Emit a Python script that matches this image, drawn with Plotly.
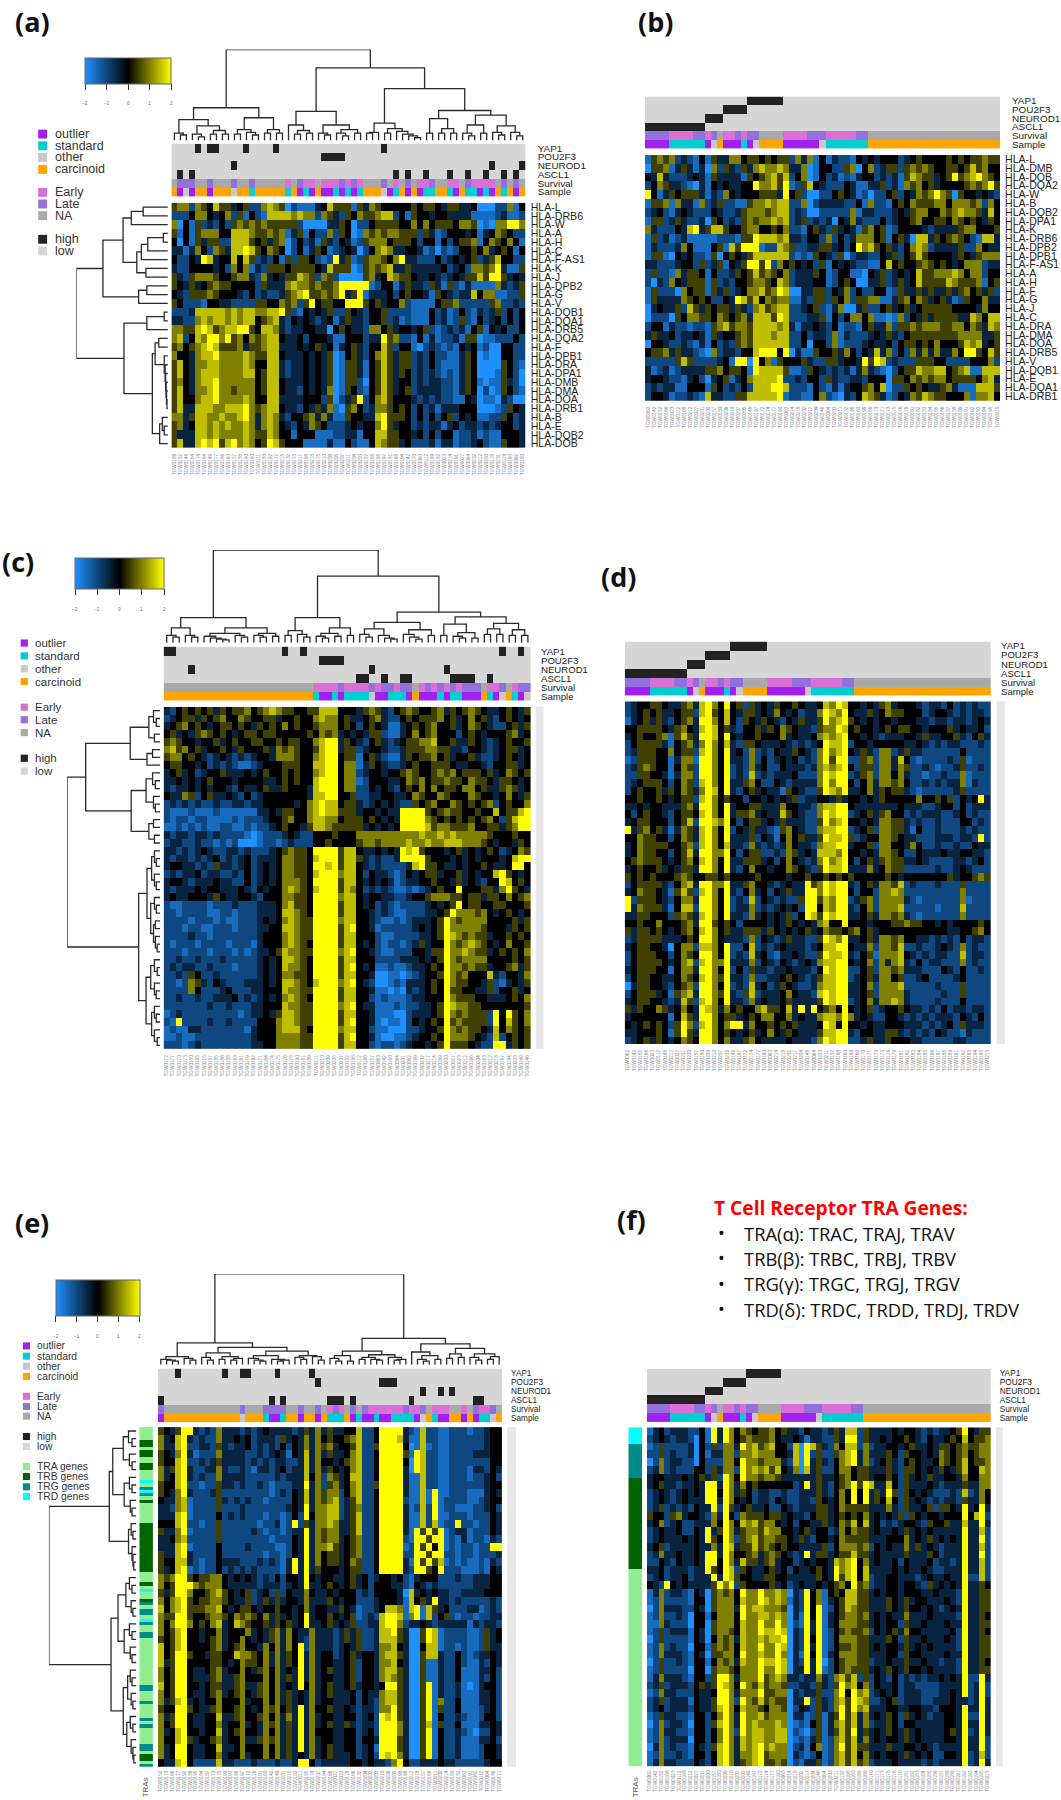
import plotly.graph_objects as go

WIDTH = 1061
HEIGHT = 1800

# heat values, one digit per cell: 0 = -2 (blue), 4 = 0 (black), 8 = +2 (yellow)
GENES_A = ["HLA-L", "HLA-DRB6", "HLA-W", "HLA-A", "HLA-H", "HLA-C", "HLA-F-AS1", "HLA-K", "HLA-J", "HLA-DPB2",
           "HLA-G", "HLA-V", "HLA-DQB1", "HLA-DQA1", "HLA-DRB5", "HLA-DQA2", "HLA-F", "HLA-DPB1", "HLA-DRA",
           "HLA-DPA1", "HLA-DMB", "HLA-DMA", "HLA-DOA", "HLA-DRB1", "HLA-B", "HLA-E", "HLA-DQB2", "HLA-DOB"]
HEAT_A = [
    "5662654755 3452267650 2111347555 1536544444 5455435533 400022614",
    "2224664346 2514217777 6766265325 4655677241 5443443333 111123112",
    "6041523242 5656565555 5200003354 0224555544 6464555466 501066886",
    "5141566644 7776556561 3514226254 0165656655 5253124443 413465422",
    "4041535522 7775453560 2423153243 1256664555 4244142455 614654641",
    "3313642653 7787546540 2413541234 3024676334 4312021244 546345414",
    "4224387344 7475232415 2554212835 1256654683 3222423434 523574422",
    "3224444342 6461325554 5555437555 0156567335 3333342342 665683115",
    "5325666544 5663263435 5765265200 0056347655 4334323435 575885343",
    "5435345655 4444253336 7665655688 8881244135 3325315213 111163235",
    "4325556544 4324232235 6785565683 5813334245 4431543233 746611225",
    "5422214433 2222554465 6258455448 8854534462 1111455622 222562232",
    "2223777776 7677667785 2143435225 4324452222 1114231242 132352424",
    "3322676776 7677456732 4343234135 3324452312 1114231252 142342424",
    "6655787567 7885477632 3344330454 3326645344 3452123231 451434224",
    "6724768868 5646567743 3424443114 4423385622 1413122315 501122242",
    "5645678755 5635567733 3434534134 5324475244 1023212143 412004422",
    "6443677866 6676557743 3343435014 5324675355 2324221135 401004422",
    "5743667766 6676447732 3343435015 5314575355 2324211135 400005421",
    "5743677766 6677457732 3343435015 5314575354 2323212135 400015420",
    "5643677866 6666457743 3343435015 5204575344 2323322135 410115320",
    "5743667866 5666457743 3243436015 4214575345 2333322135 402015421",
    "5744677866 6676447733 3344425023 5824675444 3232322114 301103200",
    "5733777667 7786567743 3243536105 6423665454 2423133344 400012543",
    "6635776676 6786367632 4456363115 4433785554 2424245243 411225423",
    "5634776767 6676367643 2436542223 4344685344 2323313423 323234423",
    "5333776766 6676557644 1444111223 3144775544 3424244122 312114443",
    "5733787857 8676458754 4411113114 2114765534 2223133122 342115443",
]

SAMPLES_A = ["TGW0189", "TGW0152", "TGW0146", "TGW0164", "TGW0174", "TGW0184", "TGW0149", "TGW0177", "TGW0186", "TGW0163",
             "TGW0157", "TGW0188", "TGW0190", "TGW0160", "TGW0111", "TGW0183", "TGW0192", "TGW0172", "TGW0215", "TGW0132",
             "TGW0173", "TGW0217", "TGW0198", "TGW0218", "TGW0175", "TGW0210", "TGW0209", "TGW0205", "TGW0207", "TGW0211",
             "TGW0204", "TGW0203", "TGW0187", "TGW0185", "TGW0195", "TGW0197", "TGW0181", "TGW0168", "TGW0194", "TGW0142",
             "TGW0170", "TGW0063", "TGW0112", "TGW0169", "TGW0182", "TGW0023", "TGW0214", "TGW0191", "TGW0027", "TGW0064",
             "TGW0202", "TGW0212", "TGW0200", "TGW0178", "TGW0201", "TGW0119", "TGW0193", "TGW0062", "TGW0180"]
YAP1_A = [4, 6, 7, 12, 17, 35]
POU2F3_A = [25, 26, 27, 28]
NEUROD1_A = [10, 53, 58]
ASCL1_A = [1, 3, 37, 39, 42, 46, 49, 52, 55, 57]
SURVIVAL_A = "NLLLNNLNNNLNNLNNNNNENLEENEEELELENNNLNENLNEELNNEENLEEEENLNLN"
SAMPLE_A = "COXOCCOCCCXCCSCCCCCSCOSOCOOSOSOSCCCXOSCOCOSSCCSOCSSOSOCSCOC"

GENES_B = ["HLA-L", "HLA-DMB", "HLA-DOB", "HLA-DQA2", "HLA-W", "HLA-B", "HLA-DQB2", "HLA-DPA1", "HLA-K", "HLA-DRB6",
           "HLA-DPB2", "HLA-DPB1", "HLA-F-AS1", "HLA-A", "HLA-H", "HLA-F", "HLA-G", "HLA-J", "HLA-C", "HLA-DRA",
           "HLA-DMA", "HLA-DOA", "HLA-DRB5", "HLA-V", "HLA-DQB1", "HLA-E", "HLA-DQA1", "HLA-DRB1"]
HEAT_B = [
    "1565623214 1533664554 5455263614 1322143434 4423454444 545455655",
    "0556135313 0625325367 6676336014 4225604623 5525656544 554575644",
    "4373222343 1533331545 6757246014 2312134423 2315765534 585678654",
    "2465332103 1434334486 6758125743 2224311335 2316564534 444565685",
    "8413545553 1326434445 5538452002 2454312022 4524365686 505443432",
    "1556163316 2352211566 7677226023 3332241622 1454655566 466656264",
    "2342134322 2432235666 5677232002 2222613322 2343566446 567665374",
    "1552353223 0542325656 6767235232 3043632224 2344564455 465454354",
    "6322243783 5775445664 4546221453 2534315645 1244443233 335664445",
    "1523123111 1122215587 7767332442 6242366645 1453077354 565421773",
    "1322236411 1451758881 2276522335 5342486754 5324676233 335226433",
    "1551043422 1504543577 7777212154 3250233224 3524575444 435435666",
    "3322234425 2351435885 8264543425 1434322114 7454456545 434666233",
    "2522163554 1422354575 6546233354 1244110435 2343475566 676466244",
    "2032643555 1523244566 5476233344 1245400335 2353475555 765556145",
    "1522206455 1535234667 5687003355 2436242244 1253353533 535645352",
    "1533336545 4224387574 6566113255 2546255661 1356465345 312544633",
    "0343352753 5455353267 5677223452 1360035224 5345345555 544443644",
    "0222054665 5465456377 7587222335 1424664611 0162435355 553376477",
    "2441322122 1567566577 7767313343 2412214533 6255656665 566465376",
    "3533423343 1534456577 7677224233 2613222343 5324555555 556666335",
    "0443223213 1423256577 7777224044 2612223433 4245545464 445767345",
    "4556353321 0623324478 8848031154 4536424373 6242636363 364885475",
    "2222257522 2234188084 6154445322 5534438587 2322255544 222244462",
    "3123123333 5564554187 7775112543 2323136321 0245576677 456711777",
    "3443221342 0345134677 7782232442 5322332444 0554656566 455554673",
    "2323311444 1542324277 7887222142 1313445647 0225454335 631117775",
    "2443122321 7332255777 7781221146 2103247653 1243657655 444616674",
]

SAMPLES_BDF = ["TGW0062", "TGW0142", "TGW0152", "TGW0166", "TGW0023", "TGW0112", "TGW0168", "TGW0212", "TGW0027", "TGW0201",
               "TGW0200", "TGW0157", "TGW0180", "TGW0209", "TGW0210", "TGW0207", "TGW0205", "TGW0149", "TGW0197", "TGW0172",
               "TGW0174", "TGW0177", "TGW0190", "TGW0063", "TGW0214", "TGW0218", "TGW0202", "TGW0217", "TGW0204", "TGW0146",
               "TGW0064", "TGW0203", "TGW0211", "TGW0132", "TGW0198", "TGW0160", "TGW0199", "TGW0169", "TGW0170", "TGW0171",
               "TGW0173", "TGW0175", "TGW0176", "TGW0179", "TGW0181", "TGW0182", "TGW0183", "TGW0184", "TGW0185", "TGW0186",
               "TGW0187", "TGW0188", "TGW0189", "TGW0191", "TGW0192", "TGW0193", "TGW0194", "TGW0195", "TGW0215"]
YAP1_BDF = [17, 18, 19, 20, 21, 22]
POU2F3_BDF = [13, 14, 15, 16]
NEUROD1_BDF = [10, 11, 12]
ASCL1_BDF = [0, 1, 2, 3, 4, 5, 6, 7, 8, 9]
SURVIVAL_BDF = "LLLLEEEELLELNEELELLNNNNEEEELLLEEEEELLNNNNNNNNNNNNNNNNNNNNNN"
SAMPLE_BDF = "OOOOSSSSSSOXCOOOSOXCCCCOOOOOOXSSSSSSSCCCCCCCCCCCCCCCCCCCCCC"

HEAT_C = [
    "3245454535 4556456765 5445577744 4356532456 5445635456 543345435",
    "2345535456 4465445534 4544676645 3345632245 4555645346 453245434",
    "3456454345 5454354546 4544566645 4245431134 5456445346 543224535",
    "4534356545 4345545544 4445465634 3435521134 6456444245 434445634",
    "5654434453 4544554454 5544678835 4324532345 5667445335 432345445",
    "6756453445 4354445365 6544578835 5234432235 5566553324 432345534",
    "5664543234 3232344366 6544678845 5145321135 4556453445 322345434",
    "4554434232 3211234445 5544778846 6135432234 5445554334 432445534",
    "3453423445 3334345445 4544678846 6234434456 5445656455 545346545",
    "3343434544 4344443345 4544788846 6124443346 5645565546 554355434",
    "3233434344 3243345335 4443788846 6224343245 4646455466 453356534",
    "4336524533 4324234444 4443778844 5223344334 6544654446 544346435",
    "2323232232 2332334444 4346787745 5323434322 5456446545 456245446",
    "2111211121 1111133435 5446787755 5344343388 8854565544 544745578",
    "2122122111 1212223445 6446776645 5545434388 8865454545 456425788",
    "1121212112 2112122345 4435776555 5534343488 8875665556 445535688",
    "3233233232 2221012223 4322444544 4666666666 6766767666 665444544",
    "2332232212 1200012212 3222445444 4566566667 6676677766 654344354",
    "3323234322 3323222345 6554888857 7433434387 8544434534 345423465",
    "3233232342 3234233346 6554788857 7532322388 8854443434 344434788",
    "3443323253 3234234346 6554887857 7432322223 7855433434 454334884",
    "2323342332 2324234346 6554788867 7424332124 3455344534 344785434",
    "3443233343 3224234346 6654888857 7434343123 3445443534 324487454",
    "3233343443 3343243446 7654788857 6423232112 1234544844 455368543",
    "3433444354 3344324446 6554888867 7434433223 4456665545 535546456",
    "2112222122 2322233346 7554888857 7434232122 2234345845 544554445",
    "2212222112 2122233347 7654888857 7443232112 2233458666 564345434",
    "2222122212 1122234346 7655888867 7443211212 3334586566 664444535",
    "2221221122 2122233447 7655888857 8443122222 3434586666 654443545",
    "2222322122 2222234446 7655888857 7444211222 2334587656 553445454",
    "2122212222 1222134446 7654888857 7434212212 3534486567 654346445",
    "2221222122 2121233457 6655888867 8443211222 4435586676 553454546",
    "2232232223 2222234347 7654888857 7444222233 3434586566 664444545",
    "2323322322 2122234347 6654888857 8434112112 3345486656 553445635",
    "2232542232 2222234346 6554888857 7443001101 2344586564 447324436",
    "2212653243 2223334347 7654788867 8432001213 3345486554 435213435",
    "2222642223 4222334447 6655888857 7443110103 2345485544 335244534",
    "2232232233 3423234346 7654888857 7442121112 3344486555 443334546",
    "2222222322 3222334447 6655888867 8433111212 2334587665 544444445",
    "1232222222 2212334357 7655888857 7443111002 3334586565 552848546",
    "2182222322 3222244467 7655888857 8443101102 4345485655 552847546",
    "1211332222 2221344467 7754888867 7442110002 2344586565 543746545",
    "1121122222 2222344466 6655888857 8443100112 3445486665 432724545",
    "2221232222 2222334466 6655888857 7442122123 4434585554 322883545",
]

SAMPLES_C = ["TGW0172", "TGW0177", "TGW0170", "TGW0173", "TGW0180", "TGW0195", "TGW0215", "TGW0187", "TGW0185", "TGW0186",
             "TGW0188", "TGW0193", "TGW0191", "TGW0179", "TGW0192", "TGW0171", "TGW0184", "TGW0174", "TGW0175", "TGW0176",
             "TGW0178", "TGW0190", "TGW0181", "TGW0189", "TGW0211", "TGW0210", "TGW0209", "TGW0205", "TGW0207", "TGW0132",
             "TGW0198", "TGW0112", "TGW0168", "TGW0157", "TGW0063", "TGW0142", "TGW0160", "TGW0064", "TGW0201", "TGW0062",
             "TGW0199", "TGW0202", "TGW0217", "TGW0214", "TGW0169", "TGW0200", "TGW0027", "TGW0023", "TGW0212", "TGW0166",
             "TGW0204", "TGW0163", "TGW0212", "TGW0218", "TGW0197", "TGW0194", "TGW0203", "TGW0149", "TGW0146"]
YAP1_C = [0, 1, 19, 22, 54, 57]
POU2F3_C = [25, 26, 27, 28]
NEUROD1_C = [4, 33, 45]
ASCL1_C = [31, 32, 35, 38, 39, 46, 47, 48, 49, 52]
SURVIVAL_C = "NNNNNNNNNNNNNNNNNNNNNNNNEEEELEEEELELLELLNELELELELLLNEELNELL"
SAMPLE_C = "CCCCCCCCCCCCCCCCCCCCCCCCSOOSOSSSSXOOSSSOCOOOSOSSOOOCSOXCSOX"

HEAT_D = [
    "2344554335 6378648452 5343544543 3476874434 3563444323 324232322",
    "2345453345 5278547435 5343643423 3687684335 3465544423 443232332",
    "1345353245 6388647425 4354324353 3586785434 3443444332 332332343",
    "4455554356 4378745324 4535465433 2566874544 3454554434 445343342",
    "3454456157 5388748434 4544463433 4676784434 3233344353 344532453",
    "2455553145 6368647325 5433343232 3487782443 4444433432 323322232",
    "2355544645 5278648342 6232433543 2686784353 2662353322 222242222",
    "1255544136 6188648332 6242343423 2685882256 2663742122 223251222",
    "2356544146 5288648232 6342243332 3676784255 2663652232 122352232",
    "2255443136 6288648232 7232333422 2687882356 2664632212 232261222",
    "2345554246 5278648335 6422432333 3686884246 3665642232 323361322",
    "2454453546 5368748324 5343315432 2587683346 3545532122 222352222",
    "4454454345 5278645442 4434343523 3443534434 3544444644 545243483",
    "3343443335 6388648344 5533364433 2677884333 3333433322 344242333",
    "4245443245 5478648355 6343375432 2687882345 3564423233 322342322",
    "3455444245 7288768424 5534353332 2586784434 3665532322 322244232",
    "8356453136 5378648243 5332156432 2677882345 2665531422 322232322",
    "4465544246 5378648333 5243146453 3587785234 4665433222 333233282",
    "3465555445 6278647332 6323236433 2677883445 2664436422 322322433",
    "3465544245 7388668424 5522326534 3777684434 3665422433 343344332",
    "4565554345 6478648335 5534246432 3686784245 3565533432 222332342",
    "3454453435 5388648324 6443446543 2587783336 3465522222 322343222",
    "5454544456 5445545444 4544443445 4454545444 4454344444 445344565",
    "2455553246 7388668335 6443234338 5687883245 3665723222 322252222",
    "3465543157 5278648324 6342435338 8687884244 2667622222 222262222",
    "8255543246 6388648232 7243232258 8576882356 2666632122 222261222",
    "8365553147 7288648233 6232343428 8476883246 2666722222 122272222",
    "3355444256 5378648332 6343435248 7587883345 3665632122 222262222",
    "4454464445 6388545424 4443435434 3674484443 4445565544 343444454",
    "5355454345 6478645335 5535434345 3465545645 3444444444 443344564",
    "2355553334 5488643332 6243235332 2587683345 3665644332 323242332",
    "3455443046 6277648224 7232343332 3477884336 2665722322 343262322",
    "2455544246 5488648232 7342133432 2587783245 1666743232 332272332",
    "2455554346 7278668333 6243243234 3677884346 2636732423 322262322",
    "3455544146 6388648242 5332334333 2487882245 2665633322 243242232",
    "2455443346 5478658332 6223345432 3577882345 3664522342 222342222",
    "0355443245 6288648232 7342354322 3677883346 2666722222 322252222",
    "2455534156 7388658325 7233346433 2787883345 2666632222 232252222",
    "3455443237 5278648332 6343345333 3587882346 3667632222 322242222",
    "5354465346 4387636454 4675547383 8456484345 2344543323 242332332",
    "3444444147 5388645534 5466446343 3677686343 2244323232 333243242",
    "4345454258 6278646883 6445454533 3487484434 3344433323 234253332",
    "3344454158 5388645434 5346435433 3577883244 3355323232 432213222",
    "2345354346 5488646335 6433334333 2687882235 3354443322 222332222",
]

HEAT_E = [
    "5435883232 6333232343 3332353635 3344722488 8832172211 222122344",
    "6347832322 6334342333 2534363645 4456722488 8731172211 222222344",
    "6337822332 5323342323 2424363656 3445722588 8840171211 222222344",
    "5436831222 6333322323 4314373635 3346722488 8851872211 222233344",
    "5447822323 5333323232 3322373644 3456722488 8840872211 222222244",
    "6357832233 6322321332 3423373635 4346722488 8830872211 222133243",
    "6347832322 6333322222 3233374626 5347722488 8831172211 222122342",
    "5447822122 5332322321 2223383625 6346722588 8831172211 222222344",
    "5436832223 5222222221 2324373656 6246722488 8831171811 222111343",
    "4336712222 5323232212 2224373656 7235722488 8821171812 222112344",
    "3326712222 5222322222 2234383667 7235622488 8831272812 211122342",
    "3337812222 4232322212 2124284667 7235722488 8831172811 222122243",
    "4447822122 5222222122 3128253667 6335722488 8831172712 282212243",
    "5336812222 5222223212 2123383656 6335722488 8831858581 233122243",
    "3346722222 5222222221 2224383656 6345622488 8821885881 213122132",
    "3337812222 4222232222 1124383667 5345622488 8812858481 212212288",
    "5337832222 4222222212 2124383645 5345622488 8822885882 212212223",
    "5447732122 4333222323 2138383645 5346522488 8831858571 212112132",
    "5347812122 4232323222 2138383544 4345522488 8832885482 221112143",
    "6568854556 6434343232 4244384344 3345342344 3421344422 232233344",
    "6458886566 6433333233 3234383345 4345342444 3321432322 222233344",
    "5358864456 7543452342 5243364334 3444232444 4307343433 223333444",
    "6467854556 6543352353 5344363335 4344222344 4317453833 232222232",
    "7467855566 7434554344 5443463443 3543122347 7617817534 222331232",
    "6558854456 6546565463 5343483445 4345123278 8716817245 212212233",
    "6468864546 7347654453 5453483345 3435223378 8623343233 333132332",
    "6457844344 6344463435 6364336333 2353522377 8530058712 222112534",
    "5457844345 6344643435 6364326333 2353522377 7530058712 222112534",
    "7457844445 6345644364 6364826333 2343522366 7430047712 212112533",
    "7458854435 5447665463 6354836344 2345344367 7530057732 242123343",
    "7358844445 5434655463 6354836344 3345244366 7430051132 242113243",
    "6458843345 6344643564 6343836345 3345244367 7530051132 241113342",
    "6458843335 6335644464 6353836344 3345244367 6530051132 241113242",
    "7458844345 5335633564 6343846345 3345344348 8530058132 231013442",
    "6458843345 6345643564 6353436345 3334243367 7530058132 231113342",
    "6357834344 6444634464 6353436344 3334243267 7530058162 241113342",
    "5448854335 6445643465 6453836445 3343233266 8530058152 241112342",
    "6358843344 7335644564 6363836344 3344234287 8530058142 232112442",
    "6458843344 6344634365 6353836345 3353233288 8630057152 241113343",
    "6347844344 7345644364 6353836444 3344234288 8630058142 232102243",
    "6447853445 6344633565 6353836344 3344244388 8530058142 231113342",
    "6348843344 7334644464 6353836345 3344234188 8530058142 231112443",
    "6348843344 6344634464 6353436345 3334234287 8630058142 231112443",
    "4337842222 7332223222 3223884233 3334434332 6842233343 322222344",
]

SAMPLES_E = ["TGW0152", "TGW0170", "TGW0166", "TGW0177", "TGW0192", "TGW0188", "TGW0195", "TGW0184", "TGW0187", "TGW0173",
             "TGW0175", "TGW0190", "TGW0193", "TGW0189", "TGW0197", "TGW0172", "TGW0179", "TGW0181", "TGW0160", "TGW0142",
             "TGW0149", "TGW0201", "TGW0215", "TGW0183", "TGW0211", "TGW0185", "TGW0174", "TGW0207", "TGW0194", "TGW0168",
             "TGW0027", "TGW0023", "TGW0178", "TGW0166", "TGW0132", "TGW0204", "TGW0202", "TGW0203", "TGW0210", "TGW0209",
             "TGW0205", "TGW0198", "TGW0199", "TGW0212", "TGW0218", "TGW0157", "TGW0169", "TGW0211", "TGW0200", "TGW0214",
             "TGW0180", "TGW0182", "TGW0063", "TGW0191", "TGW0062", "TGW0112", "TGW0064", "TGW0146", "TGW0171"]
YAP1_E = [3, 11, 14, 15, 20, 26]
POU2F3_E = [27, 38, 39, 40]
NEUROD1_E = [45, 48, 50]
ASCL1_E = [0, 19, 21, 29, 30, 31, 33, 43, 54, 55]
SURVIVAL_E = "LNNNNNNNNNNNNNLNNNLLLLNNLNNLNELENLNLEEEEEELEELNEEENNENLEELN"
SAMPLE_E = "OCCCCCCCCCCCCCXCCCSOOSCCOCCOCSSSCOSOOSOOSSSSOXCSOOCCOCOSSXC"
TRA_E = ("AAAABBABBAABBAAADAGDGAB" "AAAAAA" "BBBBBBBBBBBBBBB" "AAABADAABGAGGADGAAGG"
         "AAAAAAAAAAAAAAGGAAAGAAAAGAGAAAAAGGABBAG")

HEAT_F = [
    "1342333224 1838646545 5645332433 2353772533 3343443232 334584355",
    "2343233204 1838645655 5643343133 2253882533 4344543243 345474556",
    "1252222304 2526638675 6744270875 3264772623 3443453343 554565566",
    "2252322304 1336626676 6644370825 2256783633 3542544343 654564566",
    "0262332204 2226648665 6663270835 3246783623 4532454334 654574556",
    "2362322244 2536628676 7574360735 2246645533 3532554343 543574476",
    "3443334345 3528648665 6653333335 3345645534 4542534353 344364466",
    "3453323343 8838636454 4444423835 3245685873 3742533343 233353366",
    "2343234343 8848635423 3223223335 3246484835 3852543432 223272364",
    "2343234333 8838643423 3243223325 4346484835 4742534323 233253364",
    "2352323243 3828534533 4224323335 5346555533 3632533452 554383483",
    "5442563443 2638426555 4553433245 5345454634 3435254344 344484782",
    "3462342233 3648647675 6643424433 5346574734 2323443254 453373383",
    "2343342243 8358635665 7664434534 4236465534 3343534343 333383372",
    "2343334343 8548625675 6655435324 4346555533 3444634353 434383382",
    "3452333343 3638735575 6545443333 5246665624 3433635343 233383372",
    "2363343343 8838644563 5654323835 5345575534 3333533354 233383382",
    "2243243343 8848637553 5634423434 4376784634 3342433342 332383372",
    "3342333233 8548725433 4534243345 4386784733 3343433432 233383372",
    "2342334233 3838754433 5544333335 4385784723 3443332343 343382272",
    "4328434333 3586825444 4534234334 3456485623 3443443253 434383354",
    "1362332143 0565648668 6676032846 1454775534 3443444334 333283355",
    "1262222144 0566647668 7676132846 1345775533 3543534433 343283355",
    "0263332243 0566638677 6665032848 1245765533 3543544343 234383355",
    "1262232044 1466648667 7676031848 1345665634 3433633343 333283354",
    "1163222044 0566647668 6686021838 1346665534 3442533433 343383355",
    "1252333143 0566547668 7787032838 1245655624 3453644333 334283354",
    "0252222143 0465637667 6778032848 1246665533 3542533433 343283355",
    "1262322044 1565647668 6687032838 1245565534 3443534343 333283355",
    "1263332143 0556648667 6686031848 1346665533 3442544333 343383355",
    "0252232144 1465637668 7787032838 0245665523 3433533433 233283354",
    "1252222044 0566546668 6687033838 1245655534 3543544343 333283355",
    "1363332144 2588636668 5676332336 3267572524 3242323233 434382283",
    "2352333245 3587648657 5665223325 3258674624 3342332222 333382382",
    "1263322243 3488636668 5566032335 2268486723 4342333222 334382382",
    "2352333143 3588628657 5655033825 3267587622 3452333223 334332383",
    "2342333243 3578647665 4665024325 3268586733 3443344332 444383383",
    "1253322144 2468638667 5666033125 1358573634 3542534323 344382283",
    "0262332044 2578638676 6676012145 1367573623 3542443333 344383383",
    "1263322144 2468628677 6677021025 1357583534 3543534333 345382383",
    "1262333044 2468637677 6677012135 1267573634 3443534333 344383382",
    "0362322143 2578637678 6766023146 1268575533 3533443432 333383382",
    "1262232144 2478636678 5666032124 1267574634 3443534342 244382372",
    "1363322243 2478635678 5565021335 1267575623 3343333232 333382383",
]
TRA_F = "DDDGGGGGGBBBBBBBBBBBBBBBBAAAAAAAAAAAAAAAAAAAAAAAAAAAAAAAAAAA"

# row and column cluster trees: (height in % of the dendrogram, left child, right child), 0 is a leaf
TREE_A_TOP = (100,
              (36,
               (23, (8, 0, (6, 0, 0)), (16, (7, 0, (4, 0, 0)), (11, (7, 0, 0), (7, 0, 0)))),
               (25, (12, (7, 0, 0), (9, 0, (6, 0, 0))), (12, (8, 0, 0), (8, 0, 0)))),
              (80,
               (32, (17, 0, (11, (7, 0, 0), (8, 0, 0))), (17, (8, 0, (6, 0, 0)), (12, (8, 0, (5, 0, 0)), (8, 0, 0)))),
               (57,
                (19, (9, (8, 0, 0), 0), (13, (8, 0, 0), (10, 0, (7, 0, (5, 0, (3, 0, 0)))))),
                (33,
                 (24, (8, 0, 0), (13, (8, 0, 0), (8, 0, 0))),
                 (28, (17, (8, 0, (5, 0, 0)), (8, 0, 0)), (16, (9, 0, (6, 0, 0)), (9, 0, (5, 0, 0))))))))
TREE_A_LEFT = (100,
               (71,
                (49,
                 (40, (27, 0, 0), 0),
                 (34, (29, (22, (5, 0, 0), 0), 0), (24, 0, 0))),
                (32, (23, 0, 0), 0)),
               (48,
                (23, (4, 0, 0), 0),
                (17, (14, (10, 0, 0), (4, 0, (3, 0, (2.5, 0, (2, 0, (1.5, 0, (1, 0, 0))))))),
                 (9, (6, 0, (4, 0, 0)), 0))))
TREE_C_TOP = (100,
              (27,
               (16, (8, 0, (6, 0, 0)), (8, 0, (6, 0, 0))),
               (16, (10, (7, 0, (5, 0, (4, 0, (3, 0, 0)))), (8, 0, (6, 0, 0))), (10, (8, 0, (6, 0, 0)), (7, 0, 0)))),
              (72,
               (27, (13, (8, 0, 0), (9, 0, (6, 0, 0))), (16, (10, (7, 0, (5, 0, 0)), (7, 0, 0)), (8, 0, 0))),
               (33,
                (22, (15, (9, 0, (6, 0, 0)), (8, 0, (5, 0, (4, 0, 0)))), (14, (9, 0, (6, 0, (4, 0, 0))), (8, 0, 0))),
                (28, (20, (8, 0, 0), (11, (7, 0, (5, 0, 0)), (5, 0, 0))),
                 (21, (15, (9, 0, 0), (9, 0, 0)), (14, (8, 0, 0), (8, 0, 0)))))))
TREE_C_LEFT = (100,
               (80,
                (32, (12, (7, 0, (4, 0, 0)), (6, 0, 0)), (14, (8, 0, 0), 0)),
                (31, (15, (8, 0, (5, 0, 0)), (7, 0, (5, 0, 0))), (12, (7, 0, 0), (6, 0, 0)))),
               (23,
                (14, (9, (6, 0, (4, 0, 0)), (6, 0, (4, 0, 0))), (10, (6, 0, (4, 0, 0)), (7, (5, 0, 0), (5, 0, (3, 0, 0))))),
                (15, (10, (6, 0, (3, 0, 0)), (6, 0, (4, 0, 0))), (9, (6, 0, (4, 0, 0)), (6, 0, (3, 0, 0))))))
TREE_E_TOP = (100,
              (24,
               (9, (6, 0, (5, 0, (4, 0, 0))), (7, 0, (5, 0, 0))),
               (19, (13, (8, 0, (5, 0, 0)), (9, (6, 0, 0), (7, (5, 0, 0), 0))),
                (15, (10, (7, 0, (5, 0, (4, 0, 0))), (6, 0, (5, (4, 0, 0), 0))), (10, (8, 0, (6, 0, 0)), (9, 0, (5, 0, 0)))))),
              (29,
               (15, (10, (7, 0, (4, 0, 0)), (4, 0, 0)), (11, (8, (6, 0, 0), (6, 0, (5, 0, 0))), (8, 0, (6, (5, 0, 0), 0)))),
               (23, (14, 0, (10, (6, 0, (4, 0, 0)), (6, 0, 0))),
                (18, (12, (7, 0, 0), (8, 0, 0)), (12, (8, 0, (5, 0, 0)), (9, (6, 0, 0), 0))))))
TREE_E_LEFT = (100,
               (31,
                (27, (15, (9, 0, (5, 0, 0)), (8, 0, (5, 0, 0))), (14, (8, 0, (5, 0, 0)), (7, 0, (5, 0, 0)))),
                (9, (6, 0, (4, 0, 0)), (5, 0, (4, 0, (3, 0, 0))))),
               (29,
                (21, (12, (8, 0, (5, 0, 0)), (6, 0, (4, 0, 0))), (14, (8, 0, (5, 0, 0)), (7, 0, (5, 0, 0)))),
                (15, (10, (7, 0, (5, 0, 0)), (6, 0, (4, 0, 0))), (11, (7, 0, (4, 0, 0)), (6, 0, (4, 0, (3, 0, 0)))))))

TRACK_NAMES = ["YAP1", "POU2F3", "NEUROD1", "ASCL1", "Survival", "Sample"]
COLOR_TICKS = [-2, -1, 0, 1, 2]
HEAT_SCALE = [[0, "#1E90FF"], [0.5, "#000000"], [1, "#FFFF00"]]

TRACK_COLORS = {"h": "#222222", "l": "#D6D6D6", "E": "#DA70D6", "L": "#9370DB", "N": "#A9A9A9",
                "O": "#A020F0", "S": "#00CED1", "X": "#C8C8C8", "C": "#FFA500"}
TRA_COLORS = {"A": "#90EE90", "B": "#006400", "G": "#008B8B", "D": "#00FFFF"}
LEGEND_ITEMS = [("outlier", "O"), ("standard", "S"), ("other", "X"), ("carcinoid", "C"),
                ("Early", "E"), ("Late", "L"), ("NA", "N"), ("high", "h"), ("low", "l")]
TRA_LEGEND = [("TRA genes", "A"), ("TRB genes", "B"), ("TRG genes", "G"), ("TRD genes", "D")]

NUM_SAMPLES = 59
fig = go.Figure()
layout = {}
shapes = []
annotations = []
axis_count = 0


def new_axes(x0, x1, y0, y1, **yaxis):
    global axis_count
    axis_count += 1
    n = axis_count
    layout[f"xaxis{n}"] = dict(domain=[x0 / WIDTH, x1 / WIDTH], anchor=f"y{n}", visible=False)
    layout[f"yaxis{n}"] = dict(domain=[1 - y1 / HEIGHT, 1 - y0 / HEIGHT], anchor=f"x{n}", visible=False, **yaxis)
    return n


def digits(rows):
    clean = [(r.replace(" ", "") + "4" * NUM_SAMPLES)[:NUM_SAMPLES] for r in rows]
    return [[int(c) / 2 - 2 for c in r] for r in clean]


def text(x, y, s, size, color="#222222", font="Liberation Sans", **kw):
    annotations.append(dict(x=x / WIDTH, y=1 - y / HEIGHT, xref="paper", yref="paper", text=s, showarrow=False,
                            xanchor=kw.pop("xanchor", "left"), yanchor="middle",
                            font=dict(size=size, color=color, family=font), **kw))


def categorical(z_rows, colors, n):
    keys = list(colors)
    scale = []
    for i, k in enumerate(keys):
        scale += [[i / len(keys), colors[k]], [(i + 1) / len(keys), colors[k]]]
    z = [[keys.index(c) + 0.5 for c in row] for row in z_rows]
    fig.add_trace(go.Heatmap(z=z, xaxis=f"x{n}", yaxis=f"y{n}", colorscale=scale, zmin=0, zmax=len(keys),
                             showscale=False, hoverinfo="skip"))


def draw_heat(rows, box, samples, genes=None, colorbar=None, gap=4, gene_size=10.6, sample_size=4.7):
    n = new_axes(*box)
    z = digits(rows)
    count = len(z)
    trace = dict(z=z, x=list(range(NUM_SAMPLES)), y=list(range(count)), xaxis=f"x{n}", yaxis=f"y{n}",
                 colorscale=HEAT_SCALE, zmin=-2, zmax=2, showscale=False, hoverinfo="skip")
    if colorbar:
        x0, x1, y0, y1 = colorbar
        trace["showscale"] = True
        trace["colorbar"] = dict(orientation="h", x=x0 / WIDTH, xanchor="left", y=1 - y0 / HEIGHT, yanchor="top",
                                 len=x1 - x0, lenmode="pixels", thickness=y1 - y0, thicknessmode="pixels",
                                 xpad=0, ypad=0, tickvals=COLOR_TICKS, ticks="outside", ticklen=6, tickwidth=1,
                                 tickcolor="#333333", showticklabels=False, outlinecolor="#666666", outlinewidth=1)
        for t in COLOR_TICKS:
            text(x0 + (t + 2) / 4 * (x1 - x0), y1 + 20, str(t).replace("-", "−"), 4.6, "#666666", xanchor="center")
    fig.add_trace(go.Heatmap(**trace))
    layout[f"xaxis{n}"].update(visible=True, range=[-0.5, NUM_SAMPLES - 0.5], tickmode="array",
                               tickvals=list(range(NUM_SAMPLES)), ticktext=samples, tickangle=-90, ticks="",
                               ticklabelstandoff=gap, showgrid=False, zeroline=False, showline=False,
                               tickfont=dict(size=sample_size, color="#8A8A8A", family="Liberation Sans"))
    layout[f"yaxis{n}"].update(range=[count - 0.5, -0.5])
    if genes:
        layout[f"yaxis{n}"].update(visible=True, side="right", tickmode="array", tickvals=list(range(count)),
                                   ticktext=genes, ticks="", ticklabelstandoff=4, showgrid=False, zeroline=False,
                                   showline=False, tickfont=dict(size=gene_size, color="#222222",
                                                                 family="Liberation Sans"))


def draw_tracks(box, yap1, pou2f3, neurod1, ascl1, survival, sample, size, gap):
    n = new_axes(*box)
    rows = []
    for hits in (yap1, pou2f3, neurod1, ascl1):
        rows.append(["h" if i in hits else "l" for i in range(NUM_SAMPLES)])
    rows.append(list(survival))
    rows.append(list(sample))
    categorical(rows, TRACK_COLORS, n)
    layout[f"xaxis{n}"].update(range=[-0.5, NUM_SAMPLES - 0.5])
    layout[f"yaxis{n}"].update(visible=True, side="right", range=[5.5, -0.5], tickmode="array",
                               tickvals=list(range(6)), ticktext=TRACK_NAMES, ticks="", ticklabelstandoff=gap,
                               showgrid=False, zeroline=False, showline=False,
                               tickfont=dict(size=size, color="#222222", family="Liberation Sans"))


def walk_tree(node, next_leaf, seg_pos, seg_h):
    if node == 0:
        return next_leaf, 0, next_leaf + 1
    h, a, b = node
    pa, ha, next_leaf = walk_tree(a, next_leaf, seg_pos, seg_h)
    pb, hb, next_leaf = walk_tree(b, next_leaf, seg_pos, seg_h)
    seg_pos += [pa, pa, pb, pb, None]
    seg_h += [ha, h, h, hb, None]
    return (pa + pb) / 2, h, next_leaf


def draw_tree(tree, box, vertical=True):
    n = new_axes(*box)
    pos, hgt = [], []
    _, _, leaves = walk_tree(tree, 0, pos, hgt)
    if vertical:
        xs, ys = pos, hgt
        layout[f"xaxis{n}"].update(range=[-0.5, leaves - 0.5])
        layout[f"yaxis{n}"].update(range=[0, 100])
    else:
        xs, ys = hgt, pos
        layout[f"xaxis{n}"].update(range=[100, 0])
        layout[f"yaxis{n}"].update(range=[leaves - 0.5, -0.5])
    fig.add_trace(go.Scatter(x=xs, y=ys, xaxis=f"x{n}", yaxis=f"y{n}", mode="lines",
                             line=dict(color="#2A2A2A", width=1.3), hoverinfo="skip", showlegend=False))


def draw_row_bar(codes, box):
    n = new_axes(*box)
    categorical([[c] for c in codes], TRA_COLORS, n)
    layout[f"yaxis{n}"].update(range=[len(codes) - 0.5, -0.5])


def draw_legend(items, colors, ys, sq_x0, sq_x1, text_x, size):
    for (label, key), y in zip(items, ys):
        half = (sq_x1 - sq_x0) / 2
        shapes.append(dict(type="rect", xref="paper", yref="paper", x0=sq_x0 / WIDTH, x1=sq_x1 / WIDTH,
                           y0=1 - (y + half) / HEIGHT, y1=1 - (y - half) / HEIGHT,
                           fillcolor=colors[key], line=dict(width=0)))
        text(text_x, y, label, size, "#333333")


def label_strip(x0, x1, y0, y1):
    shapes.append(dict(type="rect", xref="paper", yref="paper", x0=x0 / WIDTH, x1=x1 / WIDTH,
                       y0=1 - y1 / HEIGHT, y1=1 - y0 / HEIGHT, fillcolor="#E8E8EA", line=dict(width=0)))


def panel_letter(x, y, s):
    text(x, y, f"<b>{s}</b>", 27, "#111111", "Open Sans")


# (a)
draw_tree(TREE_A_TOP, (171.4, 525.7, 47.7, 138.7))
draw_tree(TREE_A_LEFT, (76.4, 167.9, 201, 446.7), vertical=False)
draw_tracks((171.4, 525.7, 142, 194.7), YAP1_A, POU2F3_A, NEUROD1_A, ASCL1_A, SURVIVAL_A, SAMPLE_A, 9.9, 11)
draw_heat(HEAT_A, (171.4, 525.7, 201, 446.7), SAMPLES_A, GENES_A, colorbar=(85, 171.4, 56, 82))
draw_legend(LEGEND_ITEMS, TRACK_COLORS, [132.3, 144, 155.7, 167.7, 190.7, 202.3, 214, 237.7, 249.3], 38.2, 47.1, 52.9, 12.5)
panel_letter(13, 20, "(a)")

# (b)
draw_tracks((645, 1000, 94.7, 147), YAP1_BDF, POU2F3_BDF, NEUROD1_BDF, ASCL1_BDF, SURVIVAL_BDF, SAMPLE_BDF, 9.9, 11)
draw_heat(HEAT_B, (645, 1000, 153.3, 399.3), SAMPLES_BDF, GENES_B)
panel_letter(636, 20, "(b)")

# (c)
draw_tree(TREE_C_TOP, (163.6, 531, 549, 641.8))
draw_tree(TREE_C_LEFT, (67.1, 160, 706, 1049), vertical=False)
draw_tracks((163.6, 531, 645.7, 700), YAP1_C, POU2F3_C, NEUROD1_C, ASCL1_C, SURVIVAL_C, SAMPLE_C, 9.6, 9)
draw_heat(HEAT_C, (163.6, 531, 706, 1049), SAMPLES_C, colorbar=(75, 164.3, 556.8, 588.2))
label_strip(535.7, 543.6, 706, 1049)
draw_legend(LEGEND_ITEMS, TRACK_COLORS, [642.1, 655, 667.9, 680.7, 706.4, 718.9, 731.8, 757.5, 770.4], 20.7, 27.9, 32.9, 11.5)
panel_letter(0, 560, "(c)")

# (d)
draw_tracks((624.7, 991, 640.6, 695), YAP1_BDF, POU2F3_BDF, NEUROD1_BDF, ASCL1_BDF, SURVIVAL_BDF, SAMPLE_BDF, 9.6, 9)
draw_heat(HEAT_D, (624.7, 991, 700.5, 1043.8), SAMPLES_BDF)
label_strip(996.7, 1005, 700.5, 1043.8)
panel_letter(599, 575, "(d)")

# (e)
draw_tree(TREE_E_TOP, (157.9, 502.1, 1274, 1365))
draw_tree(TREE_E_LEFT, (48.9, 136.4, 1427.5, 1767.6), vertical=False)
draw_row_bar(TRA_E, (139.3, 152.9, 1427.5, 1767.6))
draw_tracks((157.9, 502.1, 1368.8, 1422.6), YAP1_E, POU2F3_E, NEUROD1_E, ASCL1_E, SURVIVAL_E, SAMPLE_E, 8.2, 8)
draw_heat(HEAT_E, (157.9, 502.1, 1427.5, 1767.6), SAMPLES_E, colorbar=(55.7, 139.3, 1280.4, 1316.8), gap=2)
label_strip(507, 516, 1427.5, 1767.6)
draw_legend(LEGEND_ITEMS, TRACK_COLORS, [1346.2, 1356.4, 1366.5, 1376.7, 1396.6, 1406.8, 1416.5, 1436.9, 1447], 22.9, 30, 34.6, 10.3)
draw_legend(TRA_LEGEND, TRA_COLORS, [1467, 1477, 1487.3, 1497], 22.9, 30, 34.6, 10.3)
text(145.7, 1788.6, "TRAs", 8, "#555555", xanchor="center", textangle=-90)
panel_letter(13, 1223, "(e)")

# (f)
draw_row_bar(TRA_F, (628.3, 642, 1427.7, 1767.5))
draw_tracks((647, 990.7, 1369.2, 1422.4), YAP1_BDF, POU2F3_BDF, NEUROD1_BDF, ASCL1_BDF, SURVIVAL_BDF, SAMPLE_BDF, 8.3, 8)
draw_heat(HEAT_F, (647, 990.7, 1427.7, 1767.5), SAMPLES_BDF, gap=2)
label_strip(996, 1002.7, 1427.7, 1767.5)
text(635.7, 1788.6, "TRAs", 8, "#555555", xanchor="center", textangle=-90)
panel_letter(615, 1220, "(f)")

text(712, 1208, "<b>T Cell Receptor TRA Genes:</b>", 19.2, "#FF0000", "Open Sans")
for y, line in zip([1233.2, 1258.5, 1284, 1309.5],
                   ["TRA(α): TRAC, TRAJ, TRAV", "TRB(β): TRBC, TRBJ, TRBV",
                    "TRG(γ): TRGC, TRGJ, TRGV", "TRD(δ): TRDC, TRDD, TRDJ, TRDV"]):
    text(716, y, "•", 18, "#111111", "Open Sans")
    text(741.7, y, line, 18.4, "#111111", "Open Sans")

fig.update_layout(width=WIDTH, height=HEIGHT, margin=dict(l=0, r=0, t=0, b=0), paper_bgcolor="white",
                  plot_bgcolor="white", showlegend=False, shapes=shapes, annotations=annotations, **layout)
fig.write_html("out.html", post_script="document.body.style.margin='0'", config={"displayModeBar": False})
